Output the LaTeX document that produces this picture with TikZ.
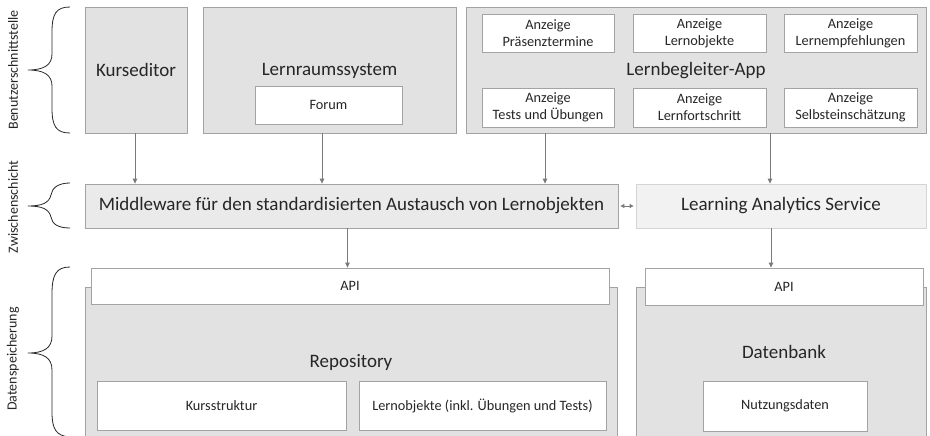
\documentclass[tikz,border=0pt]{standalone}
\usepackage{fontspec}
\setmainfont{Carlito}
\usetikzlibrary{arrows.meta}
\definecolor{boxfill}{HTML}{E2E2E2}
\definecolor{mwfill}{HTML}{EAEAEA}
\definecolor{lasfill}{HTML}{F2F2F2}
\definecolor{boxline}{HTML}{A3A3A3}
\definecolor{lasline}{HTML}{D4D4D4}
\definecolor{arrcol}{HTML}{7A7A7A}
\definecolor{txt}{HTML}{262626}
\begin{document}
\begin{tikzpicture}[x=1pt,y=-1pt,
  graybox/.style={draw=boxline, fill=boxfill, line width=0.8pt, inner sep=0pt, text=txt},
  whitebox/.style={draw=boxline, fill=white, line width=0.8pt, inner sep=0pt, text=txt, align=center, font=\fontsize{14.3}{17}\selectfont},
  bigtext/.style={inner sep=0pt, text=txt, font=\fontsize{19}{22}\selectfont},
  sidelabel/.style={inner sep=0pt, text=txt, rotate=90, font=\fontsize{14}{16}\selectfont},
  conn/.style={draw=arrcol, line width=0.8pt, -{Triangle[length=5pt,width=4.5pt]}},
  dconn/.style={draw=arrcol, line width=0.8pt, {Triangle[length=4pt,width=4pt]}-{Triangle[length=4pt,width=4pt]}},
  bracecurve/.style={draw=txt, line width=0.8pt}
]
\useasboundingbox (0,0) rectangle (930,436);
\fill[white] (0,0) rectangle (930,436);

% ---- Benutzerschnittstelle ----
\node[graybox, minimum width=102pt, minimum height=126pt] (ked) at (136,70) {};
\node[bigtext] (kedt) at (ked.center) {Kurseditor};

\node[graybox, minimum width=253pt, minimum height=126pt] (lrs) at (329.5,70) {};
\node[bigtext] (lrst) at (329.5,71) {Lernraumssystem};
\node[whitebox, minimum width=147pt, minimum height=38pt] (forum) at (328.5,105) {Forum};

\node[graybox, minimum width=460pt, minimum height=126pt] (lba) at (696,70) {};
\node[bigtext] (lbat) at (696,71) {Lernbegleiter-App};
\node[whitebox, minimum width=132pt, minimum height=38pt] (a1) at (548,33) {Anzeige\\Präsenztermine};
\node[whitebox, minimum width=133pt, minimum height=38pt] (a2) at (699.5,33) {Anzeige\\Lernobjekte};
\node[whitebox, minimum width=133pt, minimum height=38pt] (a3) at (850.5,33) {Anzeige\\Lernempfehlungen};
\node[whitebox, minimum width=132pt, minimum height=39pt] (a4) at (548,107.5) {Anzeige\\Tests und Übungen};
\node[whitebox, minimum width=133pt, minimum height=39pt] (a5) at (699.5,107.5) {Anzeige\\Lernfortschritt};
\node[whitebox, minimum width=133pt, minimum height=39pt] (a6) at (850.5,107.5) {Anzeige\\Selbsteinschätzung};

% ---- Zwischenschicht ----
\node[graybox, fill=mwfill, minimum width=533pt, minimum height=44pt, font=\fontsize{19}{22}\selectfont] (mw) at (351.5,206) {Middleware für den standardisierten Austausch von Lernobjekten};
\node[graybox, draw=lasline, fill=lasfill, minimum width=290pt, minimum height=44pt, font=\fontsize{19}{22}\selectfont] (las) at (781,206) {Learning Analytics Service};

% ---- Datenspeicherung ----
\node[graybox, minimum width=532pt, minimum height=160pt] (repo) at (351,367) {};
\node[bigtext] (repot) at (351,362) {Repository};
\node[whitebox, minimum width=518pt, minimum height=36pt] (api1) at (350,286) {API};
\node[whitebox, minimum width=249pt, minimum height=49pt] (kurs) at (221.5,405.5) {Kursstruktur};
\node[whitebox, minimum width=247pt, minimum height=49pt] (lobj) at (482.5,405.5) {Lernobjekte (inkl. Übungen und Tests)};

\node[graybox, minimum width=290pt, minimum height=160pt] (db) at (781,367) {};
\node[bigtext] (dbt) at (784,352) {Datenbank};
\node[whitebox, minimum width=278pt, minimum height=37pt] (api2) at (784,286.5) {API};
\node[whitebox, minimum width=164pt, minimum height=50pt] (nutz) at (785,406) {Nutzungsdaten};

% ---- connectors ----
\draw[conn] ([xshift=-1pt]ked.south) -- ([xshift=-1pt]ked.south |- mw.north);
\draw[conn] ([xshift=-7.5pt]lrs.south) -- ([xshift=-7.5pt]lrs.south |- mw.north);
\draw[conn] ([xshift=-151pt]lba.south) -- ([xshift=-151pt]lba.south |- mw.north);
\draw[conn] ([xshift=74pt]lba.south) -- ([xshift=74pt]lba.south |- las.north);
\draw[conn] ([xshift=-4pt]mw.south) -- ([xshift=-4pt]mw.south |- api1.north);
\draw[conn] ([xshift=-10pt]las.south) -- ([xshift=-10pt]las.south |- api2.north);
\draw[dconn] ([xshift=2pt]mw.east) -- ([xshift=-2pt]las.west);

% ---- braces ----
\draw[bracecurve] (70,7) .. controls (56,7) and (52,14) .. (52,32) -- (52,54)
  .. controls (52,65) and (44,70) .. (28,70)
  .. controls (44,70) and (52,75) .. (52,86) -- (52,108)
  .. controls (52,126) and (56,133) .. (70,133);
\draw[bracecurve] (70,183) .. controls (58,183) and (52,188) .. (51,195)
  .. controls (49,203) and (42,206) .. (28,206)
  .. controls (42,206) and (49,209) .. (51,217)
  .. controls (52,224) and (58,228) .. (70,228);
\draw[bracecurve] (70,267) .. controls (56,267) and (52,275) .. (52,294) -- (52,336)
  .. controls (52,348) and (44,353) .. (28,353)
  .. controls (44,353) and (52,358) .. (52,370) -- (52,412)
  .. controls (52,429) and (56,436) .. (70,437);

\node[sidelabel] (l1) at (13,70) {Benutzerschnittstelle};
\node[sidelabel] (l2) at (13,207) {Zwischenschicht};
\node[sidelabel] (l3) at (13,359) {Datenspeicherung};
\end{tikzpicture}
\end{document}
